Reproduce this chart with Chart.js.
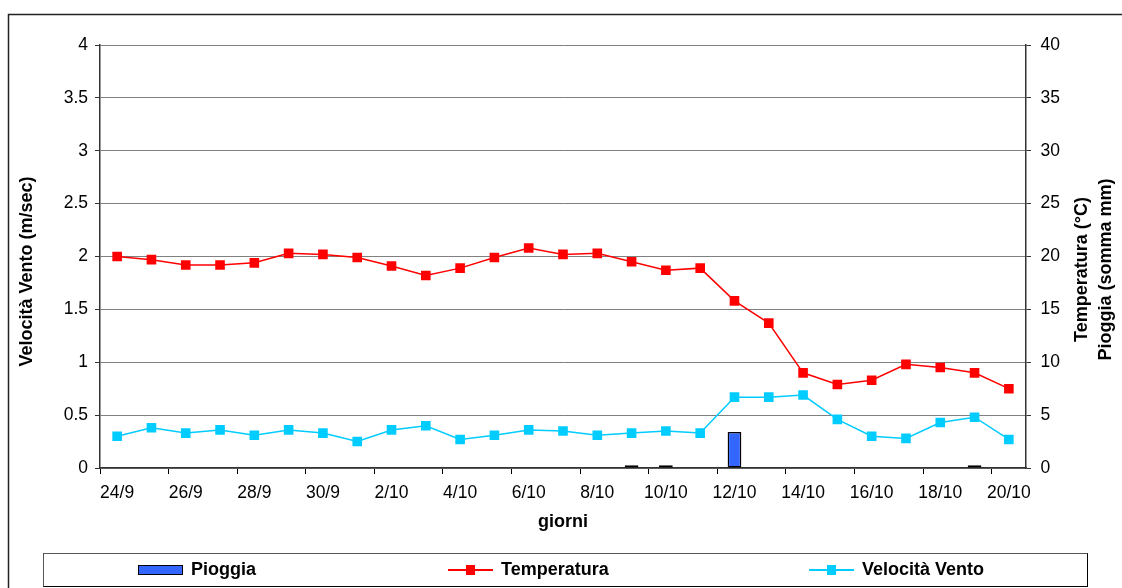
<!DOCTYPE html>
<html>
<head>
<meta charset="utf-8">
<script src="https://cdn.jsdelivr.net/npm/chart.js@4.4.1/dist/chart.umd.min.js"></script>
<style>
  html, body { margin: 0; padding: 0; background: #fff; }
  #wrap { position: relative; width: 1122px; height: 588px; overflow: hidden; }
  #c { position: absolute; left: 0; top: 0; }
  #legend {
    position: absolute; left: 43px; top: 553px; width: 1045px; height: 34px;
    box-sizing: border-box; border: 1.5px solid #000; border-top-color: #555; border-left-color: #555;
    font-family: "Liberation Sans", Arial, sans-serif; font-weight: bold; font-size: 18px; color: #000;
  }
  .item { position: absolute; top: 0; height: 31px; display: flex; align-items: center; }
  .icon { position: relative; width: 45px; height: 10px; margin-right: 8px; }
</style>
</head>
<body>
<div id="wrap">
  <canvas id="c" width="1122" height="588"></canvas>
  <div id="legend"></div>
</div>
<script>
const categories = ['24/9','25/9','26/9','27/9','28/9','29/9','30/9','1/10','2/10','3/10','4/10','5/10','6/10','7/10','8/10','9/10','10/10','11/10','12/10','13/10','14/10','15/10','16/10','17/10','18/10','19/10','20/10'];
const pioggia = [0,0,0,0,0,0,0,0,0,0,0,0,0,0,0,0.25,0.25,0,3.4,0,0,0,0,0,0,0.25,0];
const temperatura = [20.0,19.7,19.2,19.2,19.4,20.3,20.2,19.9,19.1,18.2,18.9,19.9,20.8,20.2,20.3,19.5,18.7,18.9,15.8,13.7,9.0,7.9,8.3,9.8,9.5,9.0,7.5];
const vento = [0.30,0.38,0.33,0.36,0.31,0.36,0.33,0.25,0.36,0.40,0.27,0.31,0.36,0.35,0.31,0.33,0.35,0.33,0.67,0.67,0.69,0.46,0.30,0.28,0.43,0.48,0.27];
const seriesNames = ['Pioggia','Temperatura','Velocità Vento'];
const leftTicks = [0,0.5,1,1.5,2,2.5,3,3.5,4];
const rightTicks = [0,5,10,15,20,25,30,35,40];
const xTitle = 'giorni';
const leftTitle = 'Velocità Vento (m/sec)';
const rightTitles = ['Temperatura (°C)','Pioggia (somma mm)'];

const FONT = '"Liberation Sans", Arial, sans-serif';
const RED = '#FF0000', CYAN = '#00CCFF', BLUE = '#3366FF';

function drawVertical(ctx, text, x, y) {
  ctx.save();
  ctx.translate(x, y);
  ctx.rotate(-Math.PI / 2);
  ctx.fillText(text, 0, 0);
  ctx.restore();
}

const framePlugin = {
  id: 'frame',
  beforeDraw(chart) {
    const ctx = chart.ctx;
    ctx.save();
    ctx.fillStyle = '#fff';
    ctx.fillRect(0, 0, chart.width, chart.height);
    ctx.strokeStyle = '#222';
    ctx.lineWidth = 1.5;
    ctx.strokeRect(8.5, 14.5, 1200, 700);
    ctx.restore();
  },
  afterDraw(chart) {
    const ctx = chart.ctx;
    const area = chart.chartArea;
    const cy = (area.top + area.bottom) / 2 + 13;
    ctx.save();
    ctx.fillStyle = '#000';
    ctx.font = 'bold 18px ' + FONT;
    ctx.textAlign = 'center';
    ctx.textBaseline = 'middle';
    drawVertical(ctx, leftTitle, 27, cy + 2);
    drawVertical(ctx, rightTitles[0], 1082, cy);
    drawVertical(ctx, rightTitles[1], 1106, cy);
    ctx.restore();
  }
};

const tickFont = { family: FONT, size: 17.5 };

new Chart(document.getElementById('c'), {
  type: 'bar',
  data: {
    labels: categories,
    datasets: [
      { type: 'line', label: seriesNames[2], data: vento, yAxisID: 'y', order: 1,
        borderColor: CYAN, backgroundColor: CYAN, borderWidth: 1.5,
        pointStyle: 'rect', pointRadius: 6.8, pointHoverRadius: 6.8, pointBorderWidth: 0, tension: 0 },
      { type: 'line', label: seriesNames[1], data: temperatura, yAxisID: 'y1', order: 2,
        borderColor: RED, backgroundColor: RED, borderWidth: 1.5,
        pointStyle: 'rect', pointRadius: 6.8, pointHoverRadius: 6.8, pointBorderWidth: 0, tension: 0 },
      { type: 'bar', label: seriesNames[0], data: pioggia, yAxisID: 'y1', order: 3,
        backgroundColor: BLUE, borderColor: '#000', borderWidth: 1.5, borderSkipped: false,
        barPercentage: 0.4, categoryPercentage: 1 }
    ]
  },
  options: {
    responsive: false,
    animation: false,
    events: [],
    layout: { padding: { left: 10, right: 0, top: 45, bottom: 48 } },
    plugins: { legend: { display: false }, tooltip: { enabled: false } },
    scales: {
      x: {
        type: 'category',
        offset: true,
        grid: {
          offset: true, drawOnChartArea: false, tickLength: 6, lineWidth: 1,
          color: c => (c.index % 2 === 0 ? '#000' : 'rgba(0,0,0,0)')
        },
        border: { color: '#333', width: 1.5 },
        ticks: {
          autoSkip: false, maxRotation: 0, minRotation: 0, padding: 9,
          color: '#000', font: tickFont,
          callback: (v, i) => (i % 2 === 0 ? categories[i] : '')
        },
        title: { display: true, text: xTitle, color: '#000',
          font: { family: FONT, size: 18, weight: 'bold' }, padding: { top: 0, bottom: 7.2 } },
        afterFit: s => { s.height = 72; }
      },
      y: {
        position: 'left',
        min: 0, max: 4,
        afterBuildTicks: s => { s.ticks = leftTicks.map(v => ({ value: v })); },
        grid: { color: '#808080', lineWidth: 1, tickLength: 5, tickColor: '#333' },
        border: { color: '#333', width: 1.5 },
        ticks: { color: '#000', font: tickFont, padding: 7, callback: v => String(v) },
        afterFit: s => { s.width = 90; }
      },
      y1: {
        position: 'right',
        min: 0, max: 40,
        afterBuildTicks: s => { s.ticks = rightTicks.map(v => ({ value: v })); },
        grid: { drawOnChartArea: false, tickLength: 5, color: '#333' },
        border: { color: '#333', width: 1.5 },
        ticks: { color: '#000', font: tickFont, padding: 9.5, callback: v => String(v) },
        afterFit: s => { s.width = 96; }
      }
    }
  },
  plugins: [framePlugin]
});

// HTML legend built from the series names
const legend = document.getElementById('legend');
const legendLefts = [94, 404, 765];
const legendDefs = [
  { name: seriesNames[0], kind: 'bar', color: BLUE },
  { name: seriesNames[1], kind: 'line', color: RED },
  { name: seriesNames[2], kind: 'line', color: CYAN }
];
legendDefs.forEach((d, i) => {
  const it = document.createElement('div');
  it.className = 'item';
  it.style.left = legendLefts[i] + 'px';
  const ic = document.createElement('div');
  ic.className = 'icon';
  if (d.kind === 'bar') {
    ic.style.boxSizing = 'border-box';
    ic.style.background = d.color;
    ic.style.border = '1.5px solid #000';
  } else {
    const ln = document.createElement('div');
    ln.style.cssText = 'position:absolute;left:0;right:0;top:4px;height:2px;background:' + d.color;
    const sq = document.createElement('div');
    sq.style.cssText = 'position:absolute;left:18px;top:0;width:9px;height:10px;background:' + d.color;
    ic.appendChild(ln); ic.appendChild(sq);
  }
  const tx = document.createElement('span');
  tx.textContent = d.name;
  it.appendChild(ic); it.appendChild(tx);
  legend.appendChild(it);
});
</script>
</body>
</html>
